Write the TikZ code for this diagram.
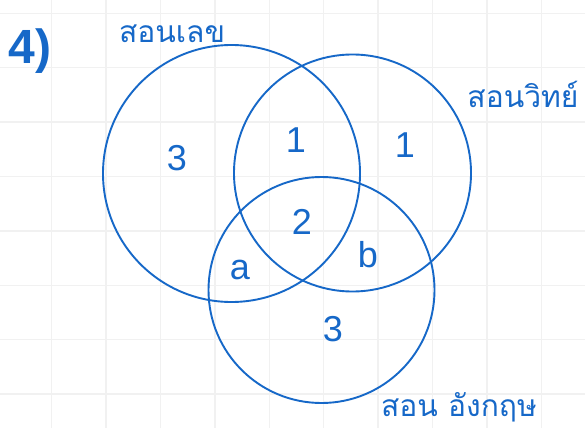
\documentclass[tikz,border=0pt]{standalone}
\usepackage{fontspec}
\newfontfamily\thaifont[Script=Thai]{Loma}
\setmainfont{Liberation Sans}
\definecolor{ink}{RGB}{22,104,200}
\definecolor{gridc}{RGB}{241,241,241}
\begin{document}
\begin{tikzpicture}[x=1pt,y=-1pt,
  ring/.style={draw=ink,line width=1.9pt},
  num/.style={text=ink,font=\fontsize{36}{36}\selectfont,inner sep=0pt},
  lbl/.style={text=ink,font=\thaifont\fontsize{30}{30}\selectfont,inner sep=0pt}]
\useasboundingbox (0,0) rectangle (585,428);
\fill[white] (0,0) rectangle (585,428);
\foreach \i in {0,...,9} \draw[gridc,line width=1.5pt] (51.7+54.4*\i,0) -- (51.7+54.4*\i,428);
\foreach \j in {0,...,7} \draw[gridc,line width=1.5pt] (0,13.3+54.4*\j) -- (585,13.3+54.4*\j);
\node[ring,circle,minimum size=257pt,inner sep=0pt] (math) at (231.5,173.5) {};
\node[ring,circle,minimum size=237pt,inner sep=0pt] (sci) at (352.5,173) {};
\node[ring,circle,minimum size=226pt,inner sep=0pt] (eng) at (321.5,290) {};
\node[text=ink,font=\bfseries\fontsize{48}{48}\selectfont,inner sep=0pt] (q) at (30,51) {4)};
\node[lbl] (lmath) at (172,34) {\thaifont สอนเลข};
\node[lbl] (lsci) at (523,94) {\thaifont สอนวิทย์};
\node[lbl] (leng) at (459,407) {\thaifont สอน อังกฤษ};
\node[num] (n1) at (177,158) {3};
\node[num] (n2) at (296,140) {1};
\node[num] (n3) at (405,145) {1};
\node[num] (n4) at (302,222) {2};
\node[num] (n5) at (240,270) {a};
\node[num] (n6) at (368,255) {b};
\node[num] (n7) at (333,329) {3};
\end{tikzpicture}
\end{document}
